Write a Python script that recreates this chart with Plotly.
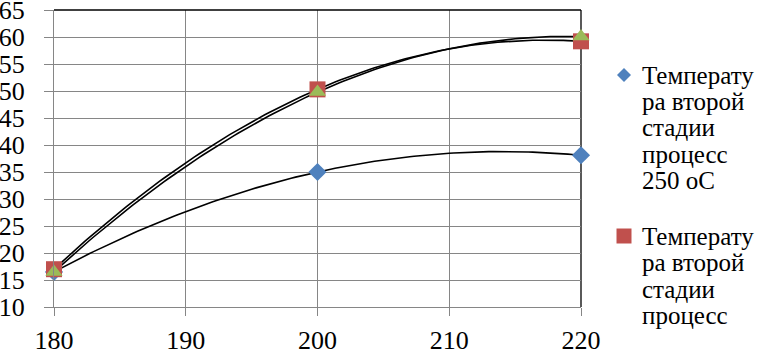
import numpy as np
import plotly.graph_objects as go

# ---- data ----
x_vals = [180, 200, 220]
blue_vals = [16.5, 35.0, 38.1]
red_vals = [17.0, 50.3, 59.2]
green_vals = [16.5, 49.8, 60.1]

x_ticks = [180, 190, 200, 210, 220]
y_ticks = [10, 15, 20, 25, 30, 35, 40, 45, 50, 55, 60, 65]

legend1_lines = ["Температу", "ра второй", "стадии", "процесс", "250 оС"]
legend2_lines = ["Температу", "ра второй", "стадии", "процесс"]

BLUE = "#4F81BD"
RED = "#C0504D"
GREEN = "#9BBB59"
GRID = "#868686"
FONT = "Times New Roman"

fig = go.Figure()

# polynomial (order 2) trend lines, computed from data
xs = np.linspace(180, 220, 121)
for vals in (blue_vals, red_vals, green_vals):
    c = np.polyfit(x_vals, vals, 2)
    fig.add_trace(go.Scatter(x=xs.tolist(), y=np.polyval(c, xs).tolist(), mode="lines",
                             line=dict(color="black", width=1.6),
                             showlegend=False, hoverinfo="skip"))

fig.add_trace(go.Scatter(x=x_vals, y=blue_vals, mode="markers",
                         marker=dict(symbol="diamond", size=14, color=BLUE),
                         showlegend=False, cliponaxis=False))
fig.add_trace(go.Scatter(x=x_vals, y=red_vals, mode="markers",
                         marker=dict(symbol="square", size=16, color=RED),
                         showlegend=False, cliponaxis=False))
fig.add_trace(go.Scatter(x=x_vals, y=green_vals, mode="markers",
                         marker=dict(symbol="triangle-up", size=15, color=GREEN),
                         showlegend=False, cliponaxis=False))

# plot area in pixels: x 54..581, y 10..307
L, R, T, B = 54, 581, 10, 307
W, H = R - L, B - T
def px(p):
    return (p - L) / W
def py(p):
    return (B - p) / H

shapes = [
    dict(type="line", xref="paper", yref="paper", x0=0, x1=1, y0=1, y1=1,
         line=dict(color="black", width=1.3), layer="above"),
    dict(type="line", xref="paper", yref="paper", x0=1, x1=1, y0=0, y1=1,
         line=dict(color="black", width=1.3), layer="below"),
]

# legend markers
mx = 624
my1, my2 = 75, 236
d = 7
shapes.append(dict(type="path", xref="paper", yref="paper",
                   path="M %.4f %.4f L %.4f %.4f L %.4f %.4f L %.4f %.4f Z" % (
                       px(mx), py(my1 - d), px(mx + d), py(my1), px(mx), py(my1 + d), px(mx - d), py(my1)),
                   fillcolor=BLUE, line=dict(width=0)))
s = 7.5
shapes.append(dict(type="rect", xref="paper", yref="paper",
                   x0=px(mx - s), x1=px(mx + s), y0=py(my2 + s), y1=py(my2 - s),
                   fillcolor=RED, line=dict(width=0)))

annotations = []
tx = 641
step = 26.5
for lines, y0 in ((legend1_lines, my1), (legend2_lines, my2)):
    for i, t in enumerate(lines):
        annotations.append(dict(text=t, x=px(tx), y=py(y0 + i * step), xref="paper", yref="paper",
                                xanchor="left", yanchor="middle", showarrow=False,
                                borderpad=0,
                                font=dict(family=FONT, size=25, color="black")))

fig.update_layout(
    width=769, height=358,
    margin=dict(l=L, r=769 - R, t=T, b=358 - B, pad=0, autoexpand=False),
    plot_bgcolor="white", paper_bgcolor="white",
    font=dict(family=FONT, size=26, color="black"),
    shapes=shapes, annotations=annotations,
    xaxis=dict(range=[180, 220], tickvals=x_ticks, showgrid=True, gridcolor=GRID, gridwidth=1,
               showline=True, linecolor=GRID, linewidth=1, ticks="outside", ticklen=8,
               tickcolor=GRID, zeroline=False, ticklabelstandoff=2, automargin=False,
               ticklabeloverflow="allow",
               tickfont=dict(family=FONT, size=26, color="black")),
    yaxis=dict(range=[10, 65], tickvals=y_ticks, showgrid=True, gridcolor=GRID, gridwidth=1,
               showline=True, linecolor=GRID, linewidth=1, ticks="outside", ticklen=9,
               tickcolor=GRID, zeroline=False, ticklabelstandoff=14, automargin=False,
               ticklabeloverflow="allow",
               tickfont=dict(family=FONT, size=26, color="black")),
)

post = (
    "document.body.style.margin='0';"
    "var st=document.createElement('style');"
    "st.textContent=\"svg text{font-family:'Times New Roman','Liberation Serif',serif !important;}\";"
    "document.head.appendChild(st);"
)
fig.write_html("out.html", config=dict(displayModeBar=False), post_script=post)
